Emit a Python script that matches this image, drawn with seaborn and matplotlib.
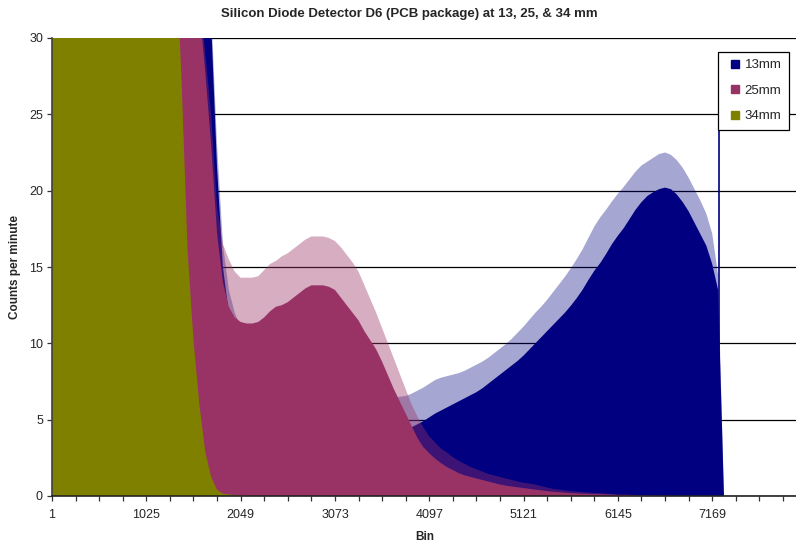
import numpy as np
import pandas as pd
import matplotlib
matplotlib.use("Agg")
import matplotlib.pyplot as plt
from matplotlib.lines import Line2D
from matplotlib.ticker import FixedLocator
import seaborn as sns

# sample positions: every 64 bins from 1 to 8193 (one row = 1024 bins)
bin_step = 64
bin_pos = np.arange(1, 8194, bin_step)
bin_edges = np.arange(-31, 8194 + 33, bin_step)

# 13 mm (navy) - solid part and noisy upper fringe
blue_core = [
    40, 40, 40, 40, 40, 40, 40, 40, 40, 40, 40, 40, 40, 40, 40, 40,
    40, 40, 40, 40, 40, 40, 40, 40, 40, 40, 34, 31, 21.5, 15, 12, 10.5,
    9.6, 8.9, 8.3, 7.8, 7.2, 6.8, 6.4, 6.0, 5.7, 5.5, 5.3, 5.1, 4.95, 4.85, 4.75, 4.65,
    4.55, 4.45, 4.35, 4.3, 4.25, 4.2, 4.2, 4.2, 4.2, 4.2, 4.2, 4.2, 4.3, 4.5, 4.7, 4.9,
    5.15, 5.4, 5.6, 5.8, 6.0, 6.2, 6.4, 6.6, 6.8, 7.05, 7.35, 7.65, 7.95, 8.25, 8.55, 8.85,
    9.2, 9.6, 10.0, 10.4, 10.8, 11.2, 11.6, 12.0, 12.45, 12.95, 13.5, 14.15, 14.75, 15.25, 15.85, 16.5,
    17.05, 17.55, 18.15, 18.75, 19.25, 19.65, 19.9, 20.1, 20.2, 20.1, 19.75, 19.25, 18.65, 17.9, 17.15, 16.4,
    15.2, 13.5, 0, 0, 0, 0, 0, 0, 0, 0, 0, 0, 0, 0, 0, 0,
    0,
]
blue_fringe = [
    40, 40, 40, 40, 40, 40, 40, 40, 40, 40, 40, 40, 40, 40, 40, 40,
    40, 40, 40, 40, 40, 40, 40, 40, 40, 40, 36, 32, 23, 16.5, 13.5, 12,
    11.1, 10.5, 9.9, 9.3, 8.8, 8.3, 7.9, 7.55, 7.25, 7.0, 6.8, 6.6, 6.45, 6.35, 6.25, 6.15,
    6.05, 6.0, 6.0, 6.0, 6.0, 6.0, 6.05, 6.15, 6.25, 6.35, 6.45, 6.5, 6.55, 6.7, 6.9, 7.1,
    7.35, 7.6, 7.75, 7.85, 7.95, 8.05, 8.2, 8.4, 8.6, 8.8, 9.05, 9.35, 9.65, 9.95, 10.3, 10.7,
    11.1, 11.55, 12.0, 12.4, 12.85, 13.35, 13.85, 14.35, 14.9, 15.5, 16.15, 16.9, 17.65, 18.25, 18.75, 19.3,
    19.8, 20.25, 20.75, 21.25, 21.65, 21.9, 22.15, 22.4, 22.5, 22.35, 22.0, 21.5, 20.85, 20.1, 19.35, 18.5,
    17.2, 14.5, 0, 0, 0, 0, 0, 0, 0, 0, 0, 0, 0, 0, 0, 0,
    0,
]
spike_bin = 7247
spike_value = 24.5

# 25 mm (plum)
pink_core = [
    40, 40, 40, 40, 40, 40, 40, 40, 40, 40, 40, 40, 40, 40, 40, 40,
    40, 40, 40, 40, 40, 40, 40, 40, 38, 32, 27.8, 23, 17.2, 14, 12.4, 11.7,
    11.4, 11.3, 11.3, 11.4, 11.7, 12.1, 12.4, 12.5, 12.7, 13.0, 13.3, 13.6, 13.8, 13.8, 13.8, 13.7,
    13.5, 13.0, 12.5, 12.0, 11.5, 10.8, 10.2, 9.6, 8.8, 7.9, 7.0, 6.2, 5.4, 4.6, 3.8, 3.2,
    2.8, 2.45, 2.15, 1.9, 1.7, 1.5, 1.35, 1.25, 1.15, 1.05, 0.95, 0.85, 0.75, 0.68, 0.62, 0.57,
    0.52, 0.47, 0.42, 0.37, 0.32, 0.28, 0.25, 0.22, 0.19, 0.17, 0.15, 0.14, 0.12, 0.11, 0.1, 0.09,
    0.07, 0.06, 0.05, 0.05, 0.04, 0.03, 0.02, 0.02, 0.01, 0, 0, 0, 0, 0, 0, 0,
    0, 0, 0, 0, 0, 0, 0, 0, 0, 0, 0, 0, 0, 0, 0, 0,
    0,
]
pink_fringe = [
    40, 40, 40, 40, 40, 40, 40, 40, 40, 40, 40, 40, 40, 40, 40, 40,
    40, 40, 40, 40, 40, 40, 40, 40, 39, 33, 29, 25, 19, 16.5, 15.5, 14.7,
    14.3, 14.3, 14.3, 14.4, 14.8, 15.2, 15.4, 15.7, 15.9, 16.2, 16.5, 16.8, 17, 17, 17, 16.9,
    16.7, 16.3, 15.8, 15.3, 14.7, 13.8, 12.9, 12, 11, 10, 9, 8, 7, 6, 5.2, 4.5,
    3.9, 3.5, 3.1, 2.85, 2.55, 2.3, 2.1, 1.9, 1.75, 1.6, 1.45, 1.35, 1.25, 1.15, 1.05, 0.95,
    0.87, 0.82, 0.75, 0.65, 0.55, 0.47, 0.42, 0.37, 0.32, 0.29, 0.26, 0.23, 0.21, 0.19, 0.16, 0.13,
    0.1, 0.1, 0.09, 0.07, 0.06, 0.05, 0.04, 0.03, 0.02, 0.02, 0, 0, 0, 0, 0, 0,
    0, 0, 0, 0, 0, 0, 0, 0, 0, 0, 0, 0, 0, 0, 0, 0,
    0,
]

# 34 mm (olive)
olive_core = [
    40, 40, 40, 40, 40, 40, 40, 40, 40, 40, 40, 40, 40, 40, 40, 40,
    40, 40, 40, 40, 40, 36, 27, 16.1, 10.2, 6.0, 2.9, 1.25, 0.4, 0.15, 0.1, 0.06,
    0.04, 0.02, 0, 0, 0, 0, 0, 0, 0, 0, 0, 0, 0, 0, 0, 0,
    0, 0, 0, 0, 0, 0, 0, 0, 0, 0, 0, 0, 0, 0, 0, 0,
    0, 0, 0, 0, 0, 0, 0, 0, 0, 0, 0, 0, 0, 0, 0, 0,
    0, 0, 0, 0, 0, 0, 0, 0, 0, 0, 0, 0, 0, 0, 0, 0,
    0, 0, 0, 0, 0, 0, 0, 0, 0, 0, 0, 0, 0, 0, 0, 0,
    0, 0, 0, 0, 0, 0, 0, 0, 0, 0, 0, 0, 0, 0, 0, 0,
    0,
]

series_names = ["13mm", "25mm", "34mm"]
series_colors = ["#000080", "#993366", "#808000"]

major_ticks = [1, 1025, 2049, 3073, 4097, 5121, 6145, 7169]
y_ticks = [0, 5, 10, 15, 20, 25, 30]

sns.set_style("white")
plt.rcParams["font.family"] = ["Liberation Sans", "DejaVu Sans"]

fig = plt.figure(figsize=(7.96, 5.44), dpi=100)
ax = fig.add_axes([52 / 796, 48 / 544, 754.5 / 796, 458 / 544])


def area(values, color, alpha):
    df = pd.DataFrame({"bin": bin_pos, "counts": values})
    sns.histplot(data=df, x="bin", weights="counts", bins=list(bin_edges), element="poly",
                 fill=True, color=color, alpha=alpha, linewidth=0, ax=ax)


# back to front: 13mm, 25mm, 34mm
area(blue_fringe, series_colors[0], 0.35)
area(blue_core, series_colors[0], 1.0)
ax.vlines(spike_bin, 0, spike_value, color=series_colors[0], lw=1.2)
area(pink_fringe, series_colors[1], 0.4)
area(pink_core, series_colors[1], 1.0)
area(olive_core, series_colors[2], 1.0)

ax.set_xlim(1, 8193)
ax.set_ylim(0, 30)
ax.set_axisbelow(True)
ax.yaxis.grid(True, color="black", lw=0.9)
ax.xaxis.grid(False)

ax.set_xticks(major_ticks)
ax.set_xticklabels([str(t) for t in major_ticks])
ax.xaxis.set_minor_locator(FixedLocator(np.arange(1, 8193, 256)))
ax.set_yticks(y_ticks)
ax.tick_params(axis="both", which="both", direction="out", length=3.5, width=0.9,
               color="#333333", labelsize=9)
ax.tick_params(axis="x", which="both", bottom=True, pad=6)
ax.tick_params(axis="y", which="both", left=True, pad=3)

for side in ["top", "right"]:
    ax.spines[side].set_visible(False)
ax.spines["left"].set_color("#404040")
ax.spines["bottom"].set_color("#222222")
ax.spines["left"].set_linewidth(1.2)
ax.spines["bottom"].set_linewidth(1.2)

ax.set_xlabel("")
ax.set_ylabel("")
fig.text(409 / 796, 1 - 14 / 544, "Silicon Diode Detector D6 (PCB package) at 13, 25, & 34 mm",
         ha="center", va="center", fontsize=9.5, fontweight="bold")
fig.text(15 / 796, 1 - 267 / 544, "Counts per minute", rotation=90,
         ha="center", va="center", fontsize=8.5, fontweight="bold")
fig.text(425 / 796, 1 - 537 / 544, "Bin", ha="center", va="center",
         fontsize=8.5, fontweight="bold")

handles = [Line2D([], [], marker="s", linestyle="", markersize=5.5, color=c)
           for c in series_colors]
leg = ax.legend(handles, series_names, loc="upper left",
                bbox_to_anchor=(717.5 / 796, 1 - 52 / 544), bbox_transform=fig.transFigure,
                frameon=True, fancybox=False, framealpha=1, edgecolor="black",
                fontsize=9.5, handlelength=1.5, handletextpad=0.0, labelspacing=1.0,
                borderpad=0.55, borderaxespad=0)
leg.get_frame().set_linewidth(0.9)
leg.set_zorder(10)

fig.savefig("out.png", dpi=100)
